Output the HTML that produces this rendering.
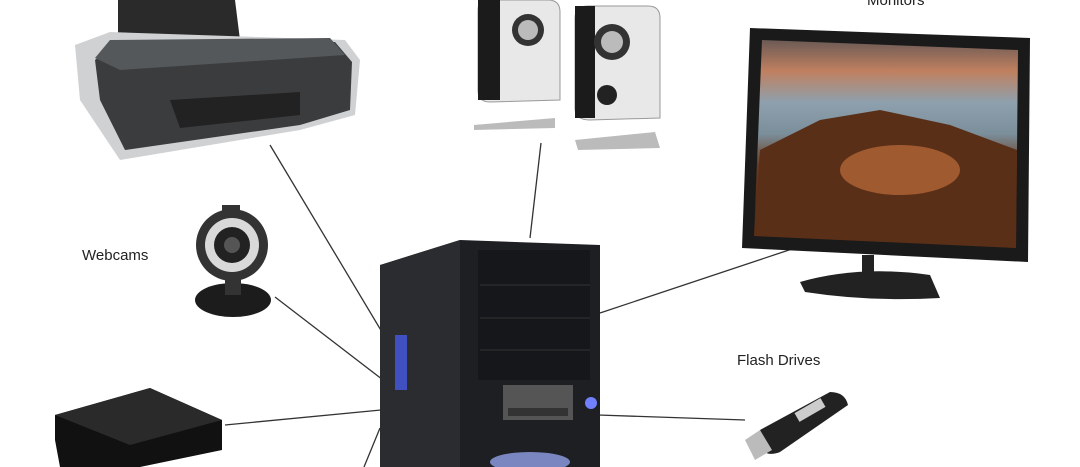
<!DOCTYPE html>
<html><head><meta charset="utf-8"><style>
body{margin:0;width:1080px;height:467px;background:#fff;overflow:hidden;position:relative;font-family:"Liberation Sans",sans-serif}
.a{position:absolute}
.t{position:absolute;font-size:15px;color:#222}
</style></head><body>
<svg class="a" style="left:0;top:0" width="1080" height="467">
<g stroke="#333" stroke-width="1.3">
<line x1="270" y1="145" x2="382" y2="332"/>
<line x1="541" y1="143" x2="530" y2="238"/>
<line x1="810" y1="243" x2="600" y2="313"/>
<line x1="275" y1="297" x2="383" y2="380"/>
<line x1="225" y1="425" x2="381" y2="410"/>
<line x1="598" y1="415" x2="745" y2="420"/>
<line x1="380" y1="428" x2="364" y2="467"/>
</g>
<!-- printer -->
<polygon points="118,0 235,0 240,40 118,40" fill="#2a2a2a"/>
<polygon points="75,45 110,32 345,40 360,60 355,115 300,130 120,160 80,100" fill="#cfd1d3"/>
<polygon points="115,45 335,42 352,62 350,110 300,125 125,150 100,100 95,60" fill="#3a3c3e"/>
<polygon points="110,40 330,38 345,55 120,70 95,58" fill="#55585a"/>
<polygon points="170,100 300,92 300,115 180,128" fill="#222"/>
<!-- speakers -->
<path d="M478,10 Q478,0 490,0 L548,0 Q560,0 560,12 L560,100 L490,102 Q478,102 478,90Z" fill="#e8e8e8" stroke="#999"/>
<rect x="478" y="0" width="22" height="100" fill="#1b1b1b"/>
<circle cx="528" cy="30" r="16" fill="#333"/><circle cx="528" cy="30" r="10" fill="#bbb"/>
<path d="M474,125 L555,118 L555,128 L474,130Z" fill="#bbb"/>
<path d="M575,18 Q575,6 588,6 L648,6 Q660,6 660,18 L660,118 L590,120 Q575,120 575,108Z" fill="#e8e8e8" stroke="#999"/>
<rect x="575" y="6" width="20" height="112" fill="#1b1b1b"/>
<circle cx="612" cy="42" r="18" fill="#333"/><circle cx="612" cy="42" r="11" fill="#bbb"/>
<circle cx="607" cy="95" r="10" fill="#222"/>
<path d="M575,140 L655,132 L660,148 L578,150Z" fill="#bbb"/>
<!-- monitor -->
<polygon points="750,28 1030,38 1028,262 742,248" fill="#1a1a1a"/>
<defs><linearGradient id="sky" x1="0" y1="0" x2="0" y2="1">
<stop offset="0" stop-color="#6b5a55"/><stop offset="0.15" stop-color="#c08060"/><stop offset="0.3" stop-color="#8ea0ad"/><stop offset="0.45" stop-color="#7b8f9b"/><stop offset="0.6" stop-color="#6a3a20"/><stop offset="1" stop-color="#3a2010"/></linearGradient></defs>
<polygon points="762,40 1018,50 1016,248 754,236" fill="url(#sky)"/>
<polygon points="760,150 820,120 880,110 950,125 1017,150 1016,248 754,236" fill="#5a2f18"/>
<ellipse cx="900" cy="170" rx="60" ry="25" fill="#a05a30"/>
<rect x="862" y="255" width="12" height="22" fill="#222"/>
<path d="M800,282 Q860,265 930,275 L940,298 Q870,302 805,292Z" fill="#222"/>
<!-- webcam -->
<circle cx="232" cy="245" r="36" fill="#333"/>
<circle cx="232" cy="245" r="27" fill="#d9d9d9"/>
<circle cx="232" cy="245" r="18" fill="#222"/>
<circle cx="232" cy="245" r="8" fill="#555"/>
<rect x="222" y="205" width="18" height="10" fill="#333"/>
<ellipse cx="233" cy="300" rx="38" ry="17" fill="#1c1c1c"/>
<rect x="225" y="275" width="16" height="20" fill="#333"/>
<!-- tower -->
<polygon points="380,265 460,240 600,245 600,467 380,467" fill="#1e1f22"/>
<polygon points="380,265 460,240 460,467 380,467" fill="#2b2c30"/>
<rect x="478" y="250" width="112" height="130" fill="#16171a"/>
<g stroke="#333"><line x1="480" y1="285" x2="590" y2="285"/><line x1="480" y1="318" x2="590" y2="318"/><line x1="480" y1="350" x2="590" y2="350"/></g>
<rect x="503" y="385" width="70" height="35" fill="#555"/>
<rect x="508" y="408" width="60" height="8" fill="#333"/>
<circle cx="591" cy="403" r="6" fill="#7080ff"/>
<rect x="395" y="335" width="12" height="55" fill="#4050c0"/>
<ellipse cx="530" cy="462" rx="40" ry="10" fill="#7a86c0"/>
<!-- HDD -->
<path d="M55,415 L150,388 L222,420 L222,450 L140,467 L60,467 L55,440Z" fill="#111"/>
<path d="M55,415 L150,388 L222,420 L130,445Z" fill="#2a2a2a"/>
<!-- flash -->
<path d="M760,430 L830,392 Q845,392 848,405 L780,452 Q765,458 758,445Z" fill="#222"/>
<path d="M745,440 L760,430 L772,450 L755,460Z" fill="#bbb"/>
<rect x="795" y="405" width="30" height="10" fill="#ccc" transform="rotate(-30 810 410)"/>
</svg>
<div class="t" style="left:867px;top:-8px">Monitors</div>
<div class="t" style="left:82px;top:247px">Webcams</div>
<div class="t" style="left:737px;top:352px">Flash Drives</div>
</body></html>
